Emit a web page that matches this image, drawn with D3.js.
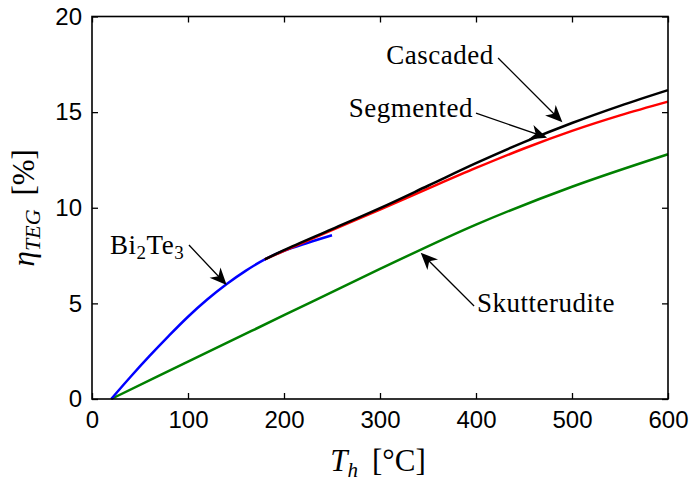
<!DOCTYPE html>
<html>
<head>
<meta charset="utf-8">
<script src="https://cdn.jsdelivr.net/npm/d3@7"></script>
<style>
  body { margin: 0; background: #fff; }
  svg { display: block; }
</style>
</head>
<body>
<svg id="chart" width="691" height="481"></svg>
<script>
// ---- data ----
const xTicks = [0, 100, 200, 300, 400, 500, 600];
const yTicks = [0, 5, 10, 15, 20];

const bi2te3T   = [20, 40, 60, 80, 100, 120, 140, 160, 180, 200, 225, 250];
const bi2te3Eta = [0, 1.15, 2.25, 3.3, 4.3, 5.2, 6.0, 6.7, 7.3, 7.75, 8.17, 8.56];

const cascadedT   = [180, 200, 250, 300, 350, 400, 450, 500, 550, 600];
const cascadedEta = [7.3, 7.78, 8.88, 9.98, 11.15, 12.33, 13.43, 14.43, 15.33, 16.15];

const segmentedT   = [180, 200, 250, 300, 350, 400, 450, 500, 550, 600];
const segmentedEta = [7.3, 7.75, 8.83, 9.9, 11.0, 12.08, 13.1, 14.02, 14.83, 15.55];

const skutT   = [20, 100, 200, 300, 400, 500, 600];
const skutEta = [0, 1.95, 4.38, 6.8, 9.12, 11.1, 12.8];

// annotations: label, text anchor pos, arrow tail, arrow tip (data units)
const annLabels  = ["Cascaded", "Segmented", "Bi2Te3", "Skutterudite"];
const annTextPos = [[418.5, 17.5], [397, 14.73], [18.8, 7.57], [401, 4.55]];
const annAnchor  = ["end", "end", "start", "start"];
const annTail    = [[423, 17.83], [400, 14.95], [101, 8.05], [398, 4.86]];
const annTip     = [[490, 14.47], [474, 13.66], [140.3, 5.96], [342.4, 7.65]];

// ---- layout ----
const svg = d3.select("#chart");
const L = 92, R = 668, T = 16.5, B = 399;
const x = d3.scaleLinear().domain([0, 600]).range([L, R]);
const y = d3.scaleLinear().domain([0, 20]).range([B, T]);

const tickFont = "'Liberation Sans', Arial, sans-serif";
const serif = "'Liberation Serif', 'Times New Roman', serif";

// axes with inward ticks
const tl = 6;
const gx = svg.append("g").attr("transform", `translate(0,${B})`)
  .call(d3.axisBottom(x).tickValues(xTicks).tickSizeInner(-tl).tickSizeOuter(0).tickPadding(12));
const gxt = svg.append("g").attr("transform", `translate(0,${T})`)
  .call(d3.axisTop(x).tickValues(xTicks).tickSizeInner(-tl).tickSizeOuter(0).tickFormat(""));
const gy = svg.append("g").attr("transform", `translate(${L},0)`)
  .call(d3.axisLeft(y).tickValues(yTicks).tickSizeInner(-tl).tickSizeOuter(0).tickPadding(10));
const gyr = svg.append("g").attr("transform", `translate(${R},0)`)
  .call(d3.axisRight(y).tickValues(yTicks).tickSizeInner(-tl).tickSizeOuter(0).tickFormat(""));
[gx, gxt, gy, gyr].forEach(g => {
  g.select(".domain").remove();
  g.selectAll("line").attr("stroke", "#000").attr("stroke-width", 1.3);
  g.selectAll("text").attr("font-family", tickFont).attr("font-size", 24).attr("fill", "#000");
});
gx.selectAll("text").attr("dy", "0.71em");

// curves
const line = d3.line().x(d => x(d[0])).y(d => y(d[1])).curve(d3.curveCatmullRom.alpha(0.5));
const series = [
  [skutT, skutEta, "#008000"],
  [bi2te3T, bi2te3Eta, "#0000ff"],
  [segmentedT, segmentedEta, "#ff0000"],
  [cascadedT, cascadedEta, "#000000"],
];
series.forEach(([ts, es, c]) => {
  svg.append("path").datum(ts.map((t, i) => [t, es[i]]))
    .attr("d", line).attr("fill", "none").attr("stroke", c).attr("stroke-width", 2.5)
    .attr("stroke-linejoin", "round");
});

// frame
svg.append("rect").attr("x", L).attr("y", T).attr("width", R - L).attr("height", B - T)
  .attr("fill", "none").attr("stroke", "#000").attr("stroke-width", 1.6);

// annotations
annLabels.forEach((lab, i) => {
  const [tx, ty] = [x(annTextPos[i][0]), y(annTextPos[i][1])];
  const t = svg.append("text").attr("x", tx).attr("y", ty)
    .attr("text-anchor", annAnchor[i]).attr("font-family", serif).attr("font-size", 27)
    .attr("letter-spacing", 0.5).attr("fill", "#000");
  if (lab === "Bi2Te3") {
    t.append("tspan").text("Bi");
    t.append("tspan").attr("font-size", 19).attr("dy", 5).text("2");
    t.append("tspan").attr("dy", -5).text("Te");
    t.append("tspan").attr("font-size", 19).attr("dy", 5).text("3");
  } else {
    t.text(lab);
  }
  const x1 = x(annTail[i][0]), y1 = y(annTail[i][1]);
  const x2 = x(annTip[i][0]), y2 = y(annTip[i][1]);
  const ang = Math.atan2(y2 - y1, x2 - x1) * 180 / Math.PI;
  const len = Math.hypot(x2 - x1, y2 - y1);
  svg.append("line").attr("x1", x1).attr("y1", y1)
    .attr("x2", x1 + (x2 - x1) * (len - 10) / len).attr("y2", y1 + (y2 - y1) * (len - 10) / len)
    .attr("stroke", "#000").attr("stroke-width", 1.3);
  svg.append("path").attr("d", "M0,0 L-17,-7.5 L-12,0 L-17,7.5 Z")
    .attr("transform", `translate(${x2},${y2}) rotate(${ang})`).attr("fill", "#000");
});

// axis labels
const xl = svg.append("text").attr("x", 378).attr("y", 471).attr("text-anchor", "middle")
  .attr("font-family", serif).attr("font-size", 31).attr("fill", "#000");
xl.append("tspan").attr("font-style", "italic").text("T");
xl.append("tspan").attr("font-style", "italic").attr("font-size", 21).attr("dy", 6).text("h");
xl.append("tspan").attr("dy", -6).text("\u2009 [°C]");

const yl = svg.append("text").attr("transform", `translate(34,${(T + B) / 2}) rotate(-90)`)
  .attr("text-anchor", "middle").attr("font-family", serif).attr("font-size", 31).attr("fill", "#000");
yl.append("tspan").attr("font-style", "italic").text("η");
yl.append("tspan").attr("font-style", "italic").attr("font-size", 22).attr("dy", 6).text("TEG");
yl.append("tspan").attr("dy", -6).text("\u2009 [%]");
</script>
</body>
</html>
